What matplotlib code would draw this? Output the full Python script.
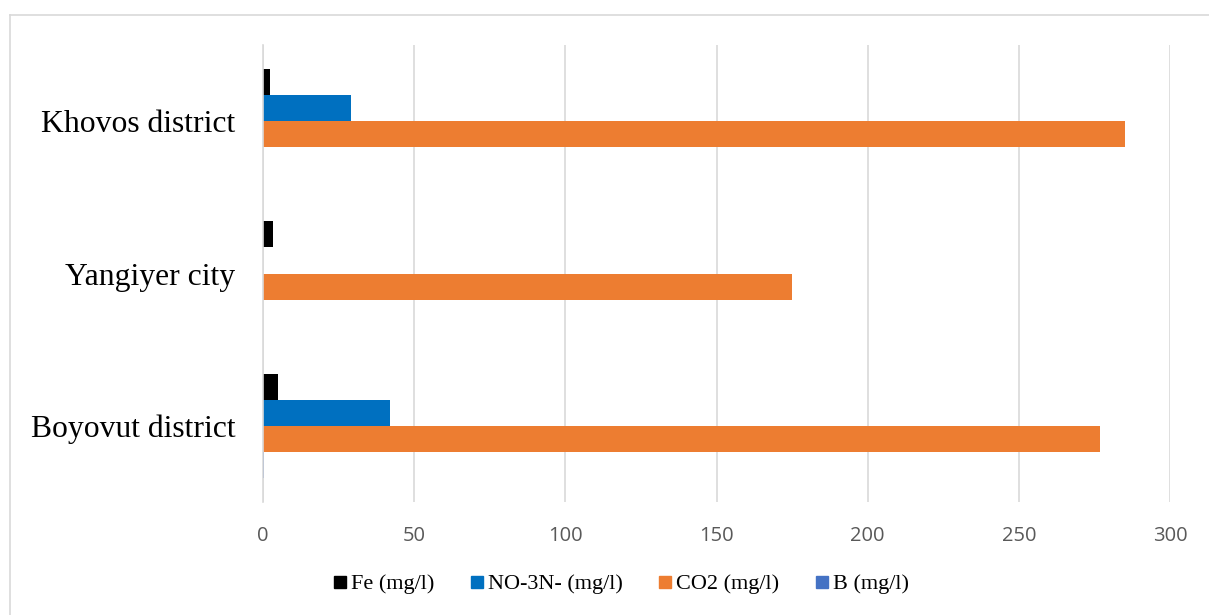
import numpy as np
import matplotlib
matplotlib.use('Agg')
import matplotlib.pyplot as plt
from matplotlib.lines import Line2D

# categories listed bottom -> top as drawn
categories = ['Boyovut district', 'Yangiyer city', 'Khovos district']
fe = [5.0, 3.4, 2.3]
no3n = [42.0, 0.0, 29.0]
co2 = [277.0, 175.0, 285.0]
b = [0.3, 0.0, 0.0]
series_names = ['Fe (mg/l)', 'NO-3N- (mg/l)', 'CO2 (mg/l)', 'B (mg/l)']
colors = ['#000000', '#0070C0', '#ED7D31', '#4472C4']
xticks = [0, 50, 100, 150, 200, 250, 300]

W, H = 1209, 615
fig = plt.figure(figsize=(W / 100, H / 100), dpi=100)
ax = fig.add_axes([263 / W, 1 - 502 / H, (1170 - 263) / W, (502 - 45) / H])

y = np.arange(len(categories)) + 0.5
h = 0.171
series = [fe, no3n, co2, b]
offsets = [1.5, 0.5, -0.5, -1.5]
for vals, off, col, name in zip(series, offsets, colors, series_names):
    ax.barh(y + off * h, vals, height=h, color=col, label=name)

ax.set_xlim(0, 300)
ax.set_ylim(0, 3)
ax.set_xticks(xticks)
ax.set_yticks(y)
ax.set_yticklabels(categories, fontsize=22.8, family='Liberation Serif', color='#000000')
for lab in ax.get_xticklabels():
    lab.set_family('Open Sans')
    lab.set_fontsize(14.5)
    lab.set_color('#595959')
ax.tick_params(axis='x', length=0, pad=17)
ax.tick_params(axis='y', length=0, pad=20)
ax.grid(axis='x', color='#d9d9d9', linewidth=1.2)
ax.set_axisbelow(True)
for s in ['top', 'right', 'bottom']:
    ax.spines[s].set_visible(False)
ax.spines['left'].set_color('#d9d9d9')
ax.spines['left'].set_linewidth(1.2)

handles = [Line2D([0], [0], marker='s', linestyle='none', markersize=9,
                  markerfacecolor=c, markeredgecolor=c) for c in colors]
fig.legend(handles, series_names, loc='center', ncol=4,
           bbox_to_anchor=(620 / W, 1 - 584 / H), frameon=False,
           prop={'family': 'Liberation Serif', 'size': 16},
           handletextpad=0.1, columnspacing=1.5, handlelength=0.8)

# outer chart frame
fig.add_artist(Line2D([10 / W, 1], [1 - 15 / H, 1 - 15 / H], color='#d9d9d9', linewidth=1.2))
fig.add_artist(Line2D([10 / W, 10 / W], [0, 1 - 15 / H], color='#d9d9d9', linewidth=1.2))

fig.savefig('out.png', dpi=100)
